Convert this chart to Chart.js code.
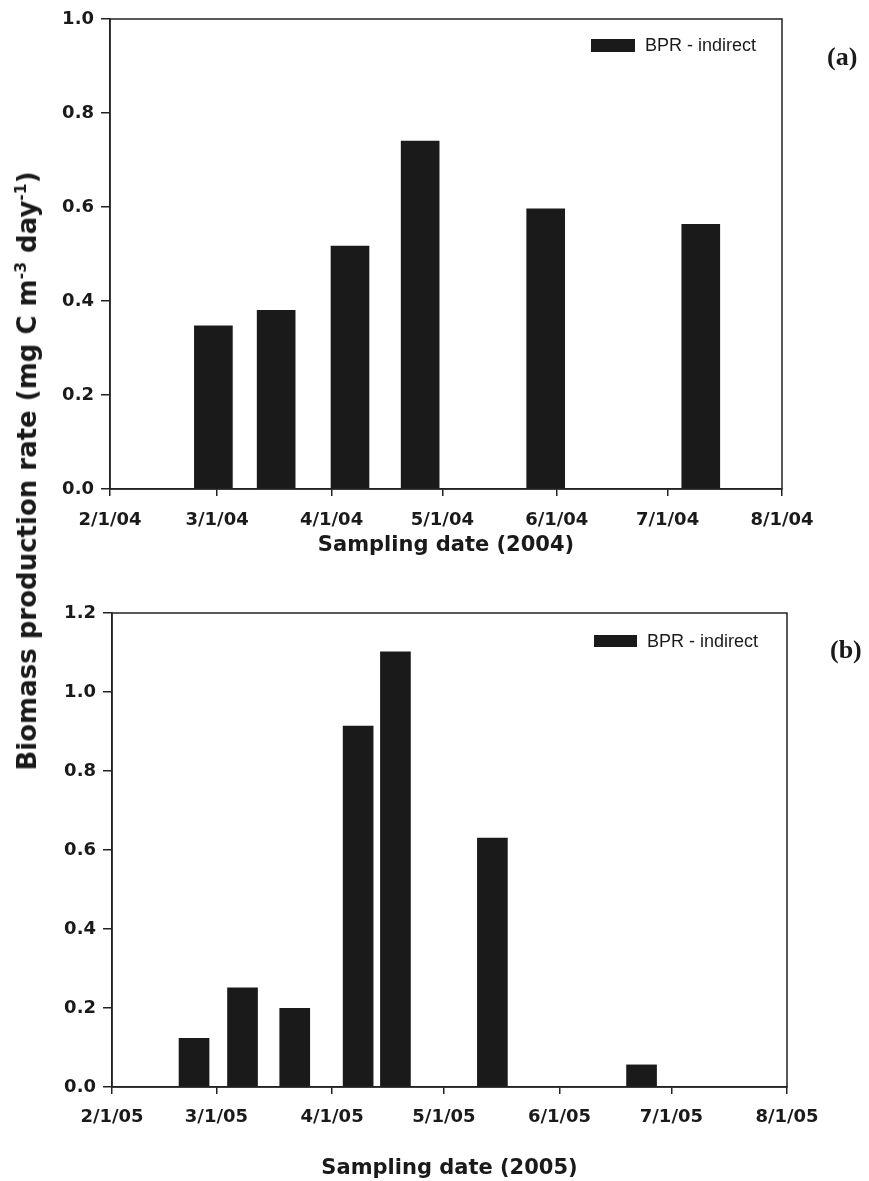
<!DOCTYPE html>
<html lang="en">
<head>
<meta charset="UTF-8" />
<title>Biomass production rate 2004 / 2005</title>
<script src="https://cdn.jsdelivr.net/npm/chart.js"></script>
<style>
  body { margin: 0; background: #fff; }
  .page {
    position: relative;
    width: 869px;
    height: 1181px;
    font-family: "DejaVu Sans", sans-serif;
    color: #1a1a1a;
  }
  canvas { position: absolute; left: 0; }
  #chartA { top: 0; }
  #chartB { top: 590px; }

  .ytitle {
    position: absolute;
    left: 27px;
    top: 471px;
    transform: translate(-50%, -50%) rotate(-90deg);
    white-space: nowrap;
    font-weight: bold;
    font-size: 26px;
    line-height: 28px;
  }
  .ytitle sup { font-size: 0.6em; line-height: 0; }

  .legend {
    position: absolute;
    display: flex;
    align-items: center;
    font-family: "Liberation Sans", Arial, sans-serif;
    font-size: 18px;
    line-height: 18px;
  }
  .legend .swatch { background: #1a1a1a; margin-right: 10px; }

  .panel {
    position: absolute;
    font-family: "Liberation Serif", serif;
    font-weight: bold;
    font-size: 26px;
    line-height: 26px;
  }
</style>
</head>
<body>
<div class="page">
  <canvas id="chartA" width="869" height="560"></canvas>
  <canvas id="chartB" width="869" height="591"></canvas>

  <div class="ytitle">Biomass production rate (mg C m<sup>-3</sup> day<sup>-1</sup>)</div>

  <div class="legend" style="left:591px; top:36px;">
    <div class="swatch" style="width:44px; height:13px;"></div>BPR - indirect
  </div>
  <div class="legend" style="left:594px; top:632px;">
    <div class="swatch" style="width:43px; height:12px;"></div>BPR - indirect
  </div>

  <div class="panel" style="left:827px; top:44px;">(a)</div>
  <div class="panel" style="left:830px; top:637px;">(b)</div>
</div>

<script>
  // 2004 season
  const ticks2004 = ['2/1/04', '3/1/04', '4/1/04', '5/1/04', '6/1/04', '7/1/04', '8/1/04'];
  const dates2004 = ['2/29/04', '3/17/04', '4/6/04', '4/25/04', '5/29/04', '7/10/04'];
  const bpr2004 = [0.347, 0.380, 0.517, 0.740, 0.596, 0.563];

  // 2005 season
  const ticks2005 = ['2/1/05', '3/1/05', '4/1/05', '5/1/05', '6/1/05', '7/1/05', '8/1/05'];
  const dates2005 = ['2/23/05', '3/8/05', '3/22/05', '4/8/05', '4/18/05', '5/14/05', '6/23/05'];
  const bpr2005 = [0.123, 0.251, 0.199, 0.914, 1.102, 0.630, 0.056];

  const INK = '#1a1a1a';
  const AXIS = '#222';

  // m/d/yy -> day number
  function toDay(s) {
    const [m, d, y] = s.split('/').map(Number);
    return Date.UTC(2000 + y, m - 1, d) / 86400000;
  }

  // box around the plot area
  const frame = {
    id: 'frame',
    afterDraw(chart) {
      const { ctx, chartArea: a } = chart;
      ctx.save();
      ctx.strokeStyle = AXIS;
      ctx.lineWidth = 1.5;
      ctx.strokeRect(a.left, a.top, a.right - a.left, a.bottom - a.top);
      ctx.restore();
    }
  };

  function makeChart(id, cfg) {
    const start = toDay(cfg.ticks[0]);
    const tickDays = cfg.ticks.map(t => toDay(t) - start);

    new Chart(document.getElementById(id), {
      type: 'bar',
      data: {
        datasets: [{
          label: 'BPR - indirect',
          data: cfg.dates.map((d, i) => ({ x: toDay(d) - start, y: cfg.values[i] })),
          backgroundColor: INK,
          borderWidth: 0,
          barThickness: cfg.barWidth
        }]
      },
      options: {
        responsive: false,
        animation: false,
        layout: { padding: cfg.padding },
        plugins: {
          legend: { display: false },
          tooltip: { enabled: false }
        },
        scales: {
          x: {
            type: 'linear',
            min: 0,
            max: tickDays[tickDays.length - 1],
            offset: false,
            afterBuildTicks: s => { s.ticks = tickDays.map(v => ({ value: v })); },
            afterFit: s => { s.height = cfg.xHeight; },
            grid: { offset: false, drawOnChartArea: false, tickLength: 7, color: AXIS, lineWidth: 1.5 },
            border: { display: true, color: AXIS, width: 1.5 },
            ticks: {
              autoSkip: false,
              maxRotation: 0,
              padding: cfg.tickPad,
              color: INK,
              font: { family: 'DejaVu Sans', weight: 'bold', size: 18 },
              callback: v => cfg.ticks[tickDays.indexOf(v)]
            },
            title: {
              display: true,
              text: cfg.xTitle,
              color: INK,
              font: { family: 'DejaVu Sans', weight: 'bold', size: 21 },
              padding: { top: 0, bottom: cfg.titlePad }
            }
          },
          y: {
            min: 0,
            max: cfg.yMax,
            afterFit: s => { s.width = cfg.yWidth; },
            grid: { drawOnChartArea: false, tickLength: 9, color: AXIS, lineWidth: 1.5 },
            border: { display: true, color: AXIS, width: 1.5 },
            ticks: {
              stepSize: 0.2,
              padding: 7,
              color: INK,
              font: { family: 'DejaVu Sans', weight: 'bold', size: 18 },
              callback: v => v.toFixed(1)
            }
          }
        }
      },
      plugins: [frame]
    });
  }

  makeChart('chartA', {
    ticks: ticks2004, dates: dates2004, values: bpr2004,
    xTitle: 'Sampling date (2004)', yMax: 1.0, barWidth: 38,
    padding: { left: 0, right: 87, top: 19, bottom: 0 },
    yWidth: 110, xHeight: 71, titlePad: 2, tickPad: 14
  });

  makeChart('chartB', {
    ticks: ticks2005, dates: dates2005, values: bpr2005,
    xTitle: 'Sampling date (2005)', yMax: 1.2, barWidth: 30,
    padding: { left: 0, right: 82, top: 23, bottom: 0 },
    yWidth: 112, xHeight: 94, titlePad: 0, tickPad: 13
  });
</script>
</body>
</html>
